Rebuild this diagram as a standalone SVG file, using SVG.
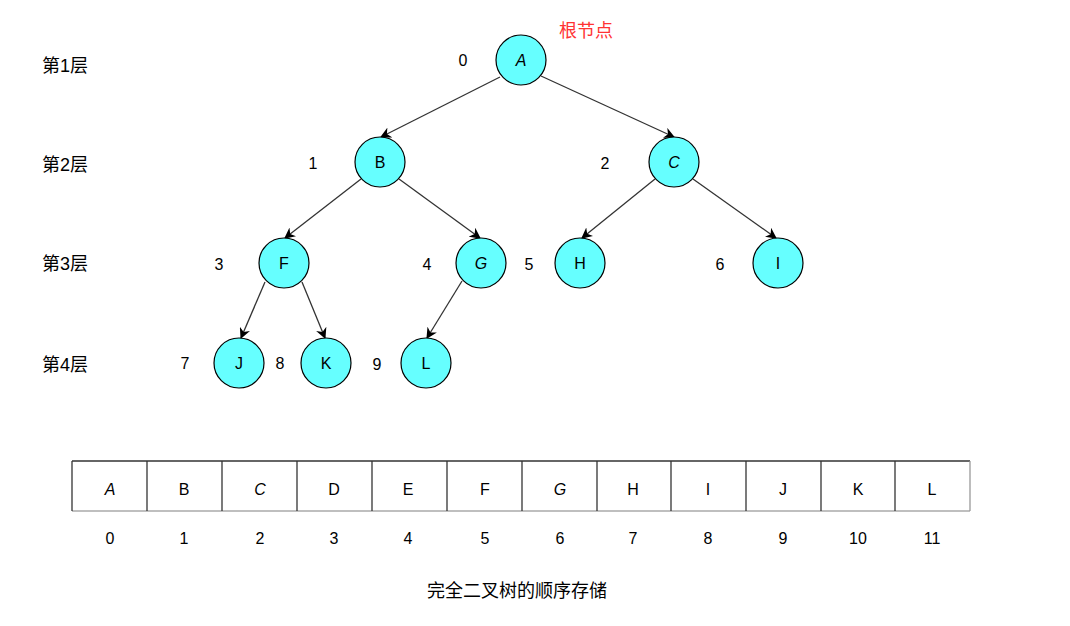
<svg xmlns="http://www.w3.org/2000/svg" width="1070" height="626" viewBox="0 0 1070 626">
<style>
.n circle{fill:#66FFFF;stroke:#000;stroke-width:1.2}
.lt{font-family:"Comic Sans MS","Liberation Sans",sans-serif;font-size:16px;fill:#000;text-anchor:middle;dominant-baseline:central}
.num{font-family:"Comic Sans MS","Liberation Sans",sans-serif;font-size:16px;fill:#000;text-anchor:middle;dominant-baseline:central}
.cn{font-family:"Liberation Sans","Noto Sans CJK SC",sans-serif;font-size:18px;fill:#000;dominant-baseline:central}
.e{stroke:#333;stroke-width:1.3;fill:none;marker-end:url(#ar)}
</style>
<defs>
<marker id="ar" viewBox="0 0 10 10" refX="9" refY="5" markerWidth="11" markerHeight="11" markerUnits="userSpaceOnUse" orient="auto">
<path d="M0,0 L10,5 L0,10 L3,5 z" fill="#000"/>
</marker>
</defs>
<g id="layers">
<text class="cn" x="42" y="66">第1层</text>
<text class="cn" x="42" y="165">第2层</text>
<text class="cn" x="42" y="264">第3层</text>
<text class="cn" x="42" y="365">第4层</text>
</g>
<text x="559" y="31" font-family="Liberation Sans,'Noto Sans CJK SC',sans-serif" font-size="18" fill="#FF3333" dominant-baseline="central">根节点</text>
<g id="connectors">
<line class="e" x1="500" y1="77" x2="381" y2="137"/>
<line class="e" x1="541" y1="76" x2="674" y2="137"/>
<line class="e" x1="361" y1="179" x2="285" y2="238"/>
<line class="e" x1="399" y1="179" x2="480" y2="238"/>
<line class="e" x1="655" y1="179" x2="582" y2="238"/>
<line class="e" x1="693" y1="179" x2="776" y2="238"/>
<line class="e" x1="265" y1="282" x2="241" y2="338"/>
<line class="e" x1="302" y1="282" x2="325" y2="338"/>
<line class="e" x1="462" y1="281" x2="427" y2="338"/>
</g>
<g id="nA" class="n"><circle cx="521" cy="60" r="25"/><text class="lt" x="521" y="60" font-style="italic">A</text></g>
<g id="nB" class="n"><circle cx="380" cy="162" r="25"/><text class="lt" x="380" y="162">B</text></g>
<g id="nC" class="n"><circle cx="674" cy="162" r="25"/><text class="lt" x="674" y="162" font-style="italic">C</text></g>
<g id="nF" class="n"><circle cx="284" cy="263" r="25"/><text class="lt" x="284" y="263">F</text></g>
<g id="nG" class="n"><circle cx="481" cy="263" r="25"/><text class="lt" x="481" y="263" font-style="italic">G</text></g>
<g id="nH" class="n"><circle cx="580" cy="263" r="25"/><text class="lt" x="580" y="263">H</text></g>
<g id="nI" class="n"><circle cx="778" cy="263" r="25"/><text class="lt" x="778" y="263">I</text></g>
<g id="nJ" class="n"><circle cx="239" cy="363" r="25"/><text class="lt" x="239" y="363">J</text></g>
<g id="nK" class="n"><circle cx="326" cy="363" r="25"/><text class="lt" x="326" y="363">K</text></g>
<g id="nL" class="n"><circle cx="426" cy="363" r="25"/><text class="lt" x="426" y="363">L</text></g>
<g id="indices">
<text class="num" x="463" y="60">0</text>
<text class="num" x="313" y="163">1</text>
<text class="num" x="605" y="163">2</text>
<text class="num" x="219" y="264">3</text>
<text class="num" x="427" y="264">4</text>
<text class="num" x="529" y="264">5</text>
<text class="num" x="720" y="264">6</text>
<text class="num" x="185" y="363">7</text>
<text class="num" x="280" y="363">8</text>
<text class="num" x="377" y="364">9</text>
</g>
<g id="array">
<rect x="72" y="461" width="898" height="50" fill="#fff" stroke="none"/>
<line x1="72" y1="461" x2="970" y2="461" stroke="#333" stroke-width="1.3"/>
<line x1="72" y1="511" x2="970" y2="511" stroke="#aaa" stroke-width="1.3"/>
<g stroke="#333" stroke-width="1.3">
<line x1="72" y1="461" x2="72" y2="511"/>
<line x1="147" y1="461" x2="147" y2="511"/>
<line x1="222" y1="461" x2="222" y2="511"/>
<line x1="297" y1="461" x2="297" y2="511"/>
<line x1="372" y1="461" x2="372" y2="511"/>
<line x1="447" y1="461" x2="447" y2="511"/>
<line x1="522" y1="461" x2="522" y2="511"/>
<line x1="597" y1="461" x2="597" y2="511"/>
<line x1="671" y1="461" x2="671" y2="511"/>
<line x1="746" y1="461" x2="746" y2="511"/>
<line x1="821" y1="461" x2="821" y2="511"/>
<line x1="895" y1="461" x2="895" y2="511"/>
<line x1="970" y1="461" x2="970" y2="511" stroke="#999"/>
</g>
<text class="lt" x="110" y="489" font-style="italic">A</text>
<text class="lt" x="184" y="489">B</text>
<text class="lt" x="260" y="489" font-style="italic">C</text>
<text class="lt" x="334" y="489">D</text>
<text class="lt" x="408" y="489">E</text>
<text class="lt" x="485" y="489">F</text>
<text class="lt" x="560" y="489" font-style="italic">G</text>
<text class="lt" x="633" y="489">H</text>
<text class="lt" x="708" y="489">I</text>
<text class="lt" x="783" y="489">J</text>
<text class="lt" x="858" y="489">K</text>
<text class="lt" x="932" y="489">L</text>
<text class="num" x="110" y="538">0</text>
<text class="num" x="184" y="538">1</text>
<text class="num" x="260" y="538">2</text>
<text class="num" x="334" y="538">3</text>
<text class="num" x="408" y="538">4</text>
<text class="num" x="485" y="538">5</text>
<text class="num" x="560" y="538">6</text>
<text class="num" x="633" y="538">7</text>
<text class="num" x="708" y="538">8</text>
<text class="num" x="783" y="538">9</text>
<text class="num" x="858" y="538">10</text>
<text class="num" x="932" y="538">11</text>
</g>
<text class="cn" x="517" y="591" text-anchor="middle">完全二叉树的顺序存储</text>
</svg>
